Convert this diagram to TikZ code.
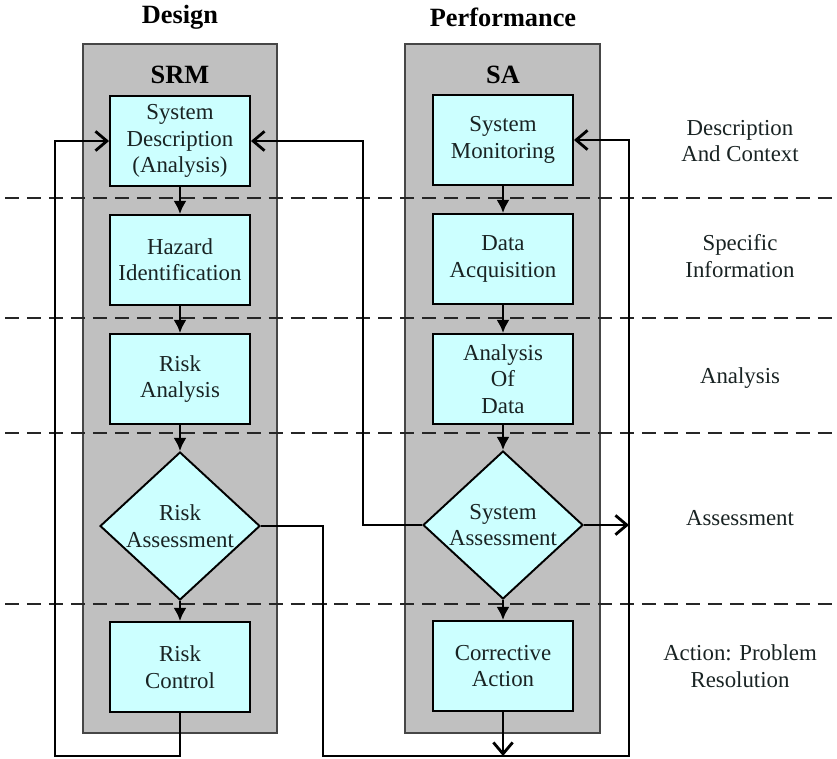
\documentclass[tikz,border=0pt]{standalone}
\usepackage{fontspec}
\setmainfont{Liberation Serif}
\usetikzlibrary{shapes.geometric,arrows.meta}

\definecolor{boxcyan}{RGB}{204,255,255}
\definecolor{panelgray}{RGB}{192,192,192}
\definecolor{panelrim}{RGB}{70,70,70}
\definecolor{textcol}{RGB}{25,35,35}

\begin{document}
\begin{tikzpicture}[
  x=0.02cm, y=-0.02cm,
  font=\fontsize{13}{15}\selectfont,
  panel/.style={draw=panelrim, fill=panelgray, line width=0.9pt, inner sep=0pt},
  block/.style={draw=black, fill=boxcyan, line width=1.1pt, text=textcol,
    minimum width=2.8cm, minimum height=1.8cm, align=center, inner sep=1pt},
  decision/.style={diamond, aspect=1.08, draw=black, fill=boxcyan, line width=1.1pt,
    text=textcol, minimum width=3.2cm, minimum height=2.96cm, align=center, inner sep=0pt},
  heading/.style={font=\fontsize{15}{18}\selectfont\bfseries},
  stage/.style={align=center, text=textcol},
  divider/.style={draw=black!85, line width=1.1pt, dash pattern=on 8pt off 4.5pt},
  flow/.style={draw=black, line width=1.6pt},
  downarrow/.style={flow, -{Latex[length=7.5pt,width=7.5pt]}},
  feedarrow/.style={flow, -{Straight Barb[length=6.5pt,width=11pt]}}
]
\useasboundingbox (0,0) rectangle (837,758);

%--------------------------------------------------------------
% Intestazioni delle due colonne
%--------------------------------------------------------------
\node[heading] (design) at (180,17) {Design};
\node[heading] (perf) at (503,17) {Performance};

\node[panel, minimum width=3.88cm, minimum height=13.78cm] (srmpanel) at (180,388.5) {};
\node[panel, minimum width=3.9cm, minimum height=13.78cm] (sapanel) at (502.5,388.5) {};
\node[heading] (srm) at (180,75) {SRM};
\node[heading] (sa) at (503,75) {SA};

%--------------------------------------------------------------
% Linee di separazione tra i livelli
%--------------------------------------------------------------
\draw[divider] (5,198) -- (837,198);
\draw[divider] (5,318) -- (837,318);
\draw[divider] (5,433) -- (837,433);
\draw[divider] (5,604) -- (837,604);

%--------------------------------------------------------------
% Colonna SRM
%--------------------------------------------------------------
\node[block] (sysdesc) at (180,141) {System\\Description\\(Analysis)};
\node[block] (hazard) at (180,260) {Hazard\\Identification};
\node[block] (riskan) at (180,379) {Risk\\Analysis};
\node[decision] (riskass) at (180,526) {Risk\\Assessment};
\node[block] (riskctl) at (180,667) {Risk\\Control};

%--------------------------------------------------------------
% Colonna SA
%--------------------------------------------------------------
\node[block] (sysmon) at (503,140) {System\\Monitoring};
\node[block] (dataacq) at (503,259) {Data\\Acquisition};
\node[block] (anadata) at (503,379) {Analysis\\Of\\Data};
\node[decision] (sysass) at (503,525) {System\\Assessment};
\node[block] (corract) at (503,666) {Corrective\\Action};

%--------------------------------------------------------------
% Livelli a destra
%--------------------------------------------------------------
\node[stage] (ctx) at (740,141) {Description\\And Context};
\node[stage] (info) at (740,256) {Specific\\Information};
\node[stage] (anl) at (740,378) {Analysis};
\node[stage] (ass) at (740,518) {Assessment};
\node[stage] (act) at (740,666) {Action: Problem\\Resolution};

%--------------------------------------------------------------
% Frecce
%--------------------------------------------------------------
\draw[downarrow] (sysdesc) -- (hazard);
\draw[downarrow] (hazard) -- (riskan);
\draw[downarrow] (riskan) -- (riskass);
\draw[downarrow] (riskass) -- (riskctl);
\draw[downarrow] (sysmon) -- (dataacq);
\draw[downarrow] (dataacq) -- (anadata);
\draw[downarrow] (anadata) -- (sysass);
\draw[downarrow] (sysass) -- (corract);

% anelli di ritorno
\coordinate (loopW) at (55,756);
\coordinate (loopS) at (323,756);
\coordinate (loopE) at (629,756);
\coordinate (crossN) at (363,525);
\draw[feedarrow] (riskctl.south) |- (loopW) |- (sysdesc.west);
\draw[feedarrow] (riskass.east) -| (loopS) -- (loopE) |- (sysmon.east);
\draw[feedarrow] (corract.south) -- (corract.south |- loopE);
\draw[feedarrow] (sysass.east) -- (sysass.east -| loopE);
\draw[feedarrow] (sysass.west) -- (crossN) |- (sysdesc.east);

\end{tikzpicture}
\end{document}
